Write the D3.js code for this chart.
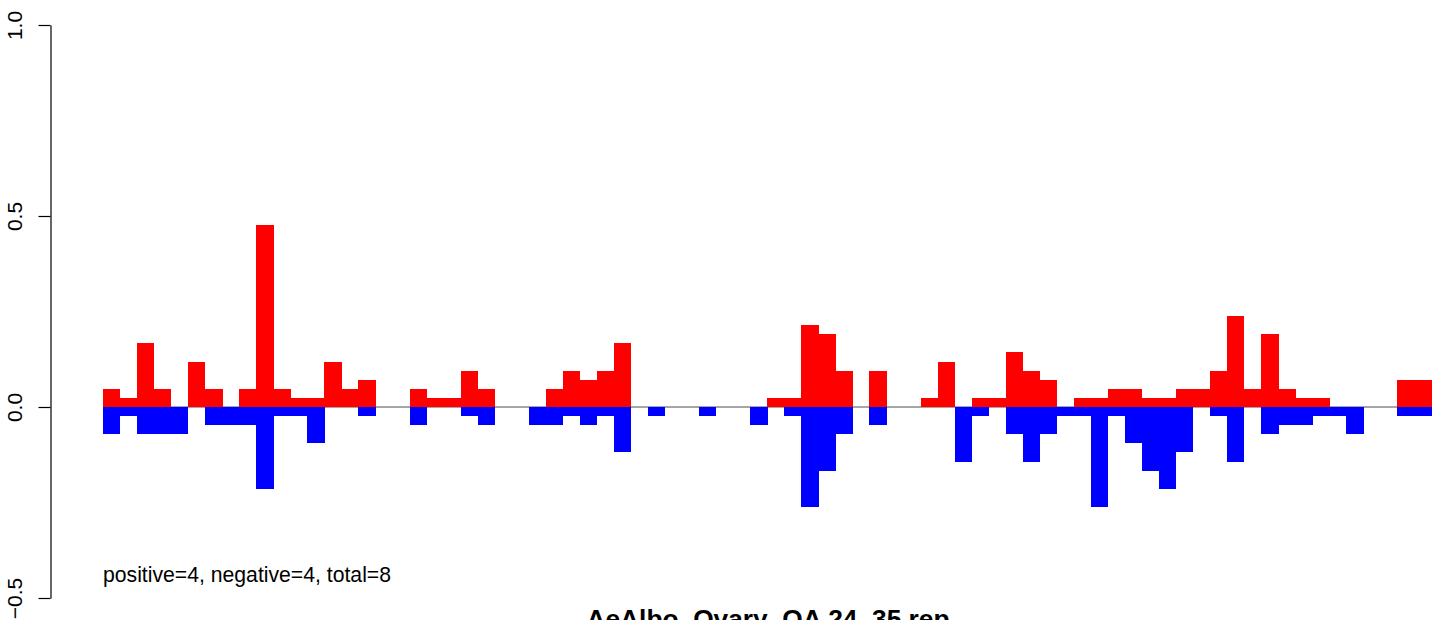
<!DOCTYPE html>
<html>
<head>
<meta charset="utf-8">
<script src="https://cdn.jsdelivr.net/npm/d3@7"></script>
<style>
  html, body { margin: 0; padding: 0; background: #fff; }
  svg { display: block; font-family: "Liberation Sans", Arial, sans-serif; }
</style>
</head>
<body>
<svg id="chart" width="1439" height="620"></svg>
<script>
// ---- data ----
const bins = d3.range(1, 79); // 78 bins along the x axis
const positive = [
  0.048, 0.024, 0.167, 0.048, 0.000, 0.119, 0.048, 0.000, 0.048, 0.476,
  0.048, 0.024, 0.024, 0.119, 0.048, 0.071, 0.000, 0.000, 0.048, 0.024,
  0.024, 0.095, 0.048, 0.000, 0.000, 0.000, 0.048, 0.095, 0.071, 0.095,
  0.167, 0.000, 0.000, 0.000, 0.000, 0.000, 0.000, 0.000, 0.000, 0.024,
  0.024, 0.214, 0.190, 0.095, 0.000, 0.095, 0.000, 0.000, 0.024, 0.119,
  0.000, 0.024, 0.024, 0.143, 0.095, 0.071, 0.000, 0.024, 0.024, 0.048,
  0.048, 0.024, 0.024, 0.048, 0.048, 0.095, 0.238, 0.048, 0.190, 0.048,
  0.024, 0.024, 0.000, 0.000, 0.000, 0.000, 0.071, 0.071
];
const negative = [
  0.071, 0.024, 0.071, 0.071, 0.071, 0.000, 0.048, 0.048, 0.048, 0.214,
  0.024, 0.024, 0.095, 0.000, 0.000, 0.024, 0.000, 0.000, 0.048, 0.000,
  0.000, 0.024, 0.048, 0.000, 0.000, 0.048, 0.048, 0.024, 0.048, 0.024,
  0.119, 0.000, 0.024, 0.000, 0.000, 0.024, 0.000, 0.000, 0.048, 0.000,
  0.024, 0.262, 0.167, 0.071, 0.000, 0.048, 0.000, 0.000, 0.000, 0.000,
  0.143, 0.024, 0.000, 0.071, 0.143, 0.071, 0.024, 0.024, 0.262, 0.024,
  0.095, 0.167, 0.214, 0.119, 0.000, 0.024, 0.143, 0.000, 0.071, 0.048,
  0.048, 0.024, 0.024, 0.071, 0.000, 0.000, 0.024, 0.024
];
const yTicks = [-0.5, 0, 0.5, 1.0];
const titleText = "AeAlbo_Ovary_OA 24_35 rep";
const noteText = "positive=4, negative=4, total=8";

// ---- drawing ----
const svg = d3.select("#chart");
const x = d3.scaleBand().domain(bins).range([103, 1431.5]).padding(0);
const y = d3.scaleLinear().domain([-0.5, 1.0]).range([598, 25]);

// zero reference line
svg.append("line")
  .attr("x1", x.range()[0]).attr("x2", x.range()[1])
  .attr("y1", y(0)).attr("y2", y(0))
  .attr("stroke", "#4d4d4d").attr("stroke-width", 1);

// positive bars (red, upward)
svg.append("g").selectAll("rect")
  .data(bins.map((b, i) => ({ b, v: positive[i] })).filter(d => d.v > 0))
  .join("rect")
  .attr("x", d => x(d.b))
  .attr("width", x.bandwidth() + 0.3)
  .attr("y", d => y(d.v))
  .attr("height", d => y(0) - y(d.v))
  .attr("fill", "#ff0000")
  .attr("shape-rendering", "crispEdges");

// negative bars (blue, downward)
svg.append("g").selectAll("rect")
  .data(bins.map((b, i) => ({ b, v: negative[i] })).filter(d => d.v > 0))
  .join("rect")
  .attr("x", d => x(d.b))
  .attr("width", x.bandwidth() + 0.3)
  .attr("y", y(0))
  .attr("height", d => y(-d.v) - y(0))
  .attr("fill", "#0000ff")
  .attr("shape-rendering", "crispEdges");

// y axis
const yAxis = d3.axisLeft(y)
  .tickValues(yTicks)
  .tickSize(12)
  .tickSizeOuter(0)
  .tickFormat(d3.format(".1f"));
const gy = svg.append("g")
  .attr("transform", "translate(50.5,0)")
  .call(yAxis);
gy.select(".domain").attr("stroke", "#000").attr("stroke-width", 1.2);
gy.selectAll(".tick line").attr("stroke", "#000").attr("stroke-width", 1.2);
gy.selectAll(".tick text")
  .attr("x", null).attr("dy", null)
  .attr("transform", "translate(-28.5,0) rotate(-90)")
  .attr("text-anchor", "middle")
  .attr("font-size", 21)
  .attr("font-family", "Liberation Sans, Arial, sans-serif")
  .attr("fill", "#000");

// annotation
svg.append("text")
  .attr("x", 103).attr("y", 582)
  .attr("font-size", 21.2)
  .attr("fill", "#000")
  .text(noteText);

// title (partially clipped at the bottom, as in the reference)
svg.append("text")
  .attr("x", 768).attr("y", 627.5)
  .attr("text-anchor", "middle")
  .attr("font-size", 26.3)
  .attr("font-weight", "bold")
  .attr("fill", "#000")
  .text(titleText);
</script>
</body>
</html>
